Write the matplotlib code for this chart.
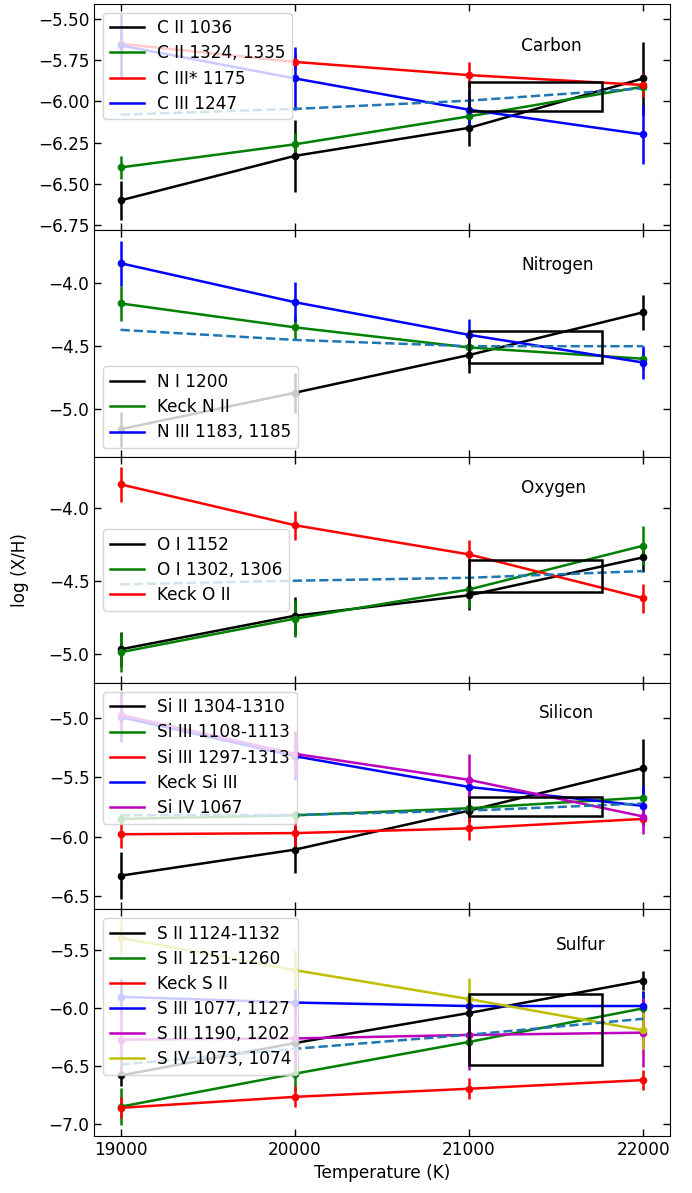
import matplotlib
matplotlib.use("Agg")
import matplotlib.pyplot as plt
from matplotlib.patches import Rectangle

plt.rcParams['font.family'] = ['DejaVu Sans']
plt.rcParams['font.size'] = 12.2

temps = [19000, 20000, 21000, 22000]
xticks = [19000, 20000, 21000, 22000]

# ---- Carbon ----
carbon_labels = ["C II 1036", "C II 1324, 1335", "C III* 1175", "C III 1247"]
carbon_colors = ["k", "g", "r", "b"]
carbon_vals = [[-6.60, -6.33, -6.16, -5.86],
               [-6.40, -6.26, -6.09, -5.91],
               [-5.65, -5.76, -5.84, -5.90],
               [-5.66, -5.86, -6.05, -6.20]]
carbon_err = [[0.12, 0.22, 0.11, 0.22],
              [0.07, 0.07, 0.06, 0.05],
              [0.05, 0.05, 0.08, 0.07],
              [0.19, 0.19, 0.12, 0.18]]
carbon_model = [-6.08, -6.045, -5.995, -5.92]
carbon_box = (-6.055, -5.88)

# ---- Nitrogen ----
nitrogen_labels = ["N I 1200", "Keck N II", "N III 1183, 1185"]
nitrogen_colors = ["k", "g", "b"]
nitrogen_vals = [[-5.16, -4.87, -4.57, -4.23],
                 [-4.16, -4.35, -4.51, -4.60],
                 [-3.84, -4.15, -4.41, -4.63]]
nitrogen_err = [[0.14, 0.16, 0.14, 0.14],
                [0.14, 0.10, 0.08, 0.08],
                [0.18, 0.16, 0.13, 0.13]]
nitrogen_model = [-4.37, -4.45, -4.50, -4.50]
nitrogen_box = (-4.635, -4.38)

# ---- Oxygen ----
oxygen_labels = ["O I 1152", "O I 1302, 1306", "Keck O II"]
oxygen_colors = ["k", "g", "r"]
oxygen_vals = [[-4.97, -4.74, -4.60, -4.34],
               [-4.99, -4.76, -4.56, -4.26],
               [-3.84, -4.12, -4.32, -4.62]]
oxygen_err = [[0.12, 0.13, 0.10, 0.10],
              [0.135, 0.127, 0.13, 0.133],
              [0.12, 0.10, 0.10, 0.10]]
oxygen_model = [-4.525, -4.50, -4.48, -4.434]
oxygen_box = (-4.575, -4.358)

# ---- Silicon ----
silicon_labels = ["Si II 1304-1310", "Si III 1108-1113", "Si III 1297-1313",
                  "Keck Si III", "Si IV 1067"]
silicon_colors = ["k", "g", "r", "b", "m"]
silicon_vals = [[-6.33, -6.11, -5.78, -5.42],
                [-5.85, -5.82, -5.76, -5.67],
                [-5.98, -5.97, -5.93, -5.85],
                [-4.99, -5.32, -5.58, -5.74],
                [-4.97, -5.30, -5.52, -5.83]]
silicon_err = [[0.20, 0.20, 0.10, 0.245],
               [0.04, 0.04, 0.04, 0.04],
               [0.12, 0.12, 0.10, 0.05],
               [0.21, 0.20, 0.10, 0.165],
               [0.15, 0.19, 0.22, 0.145]]
silicon_model = [-5.82, -5.817, -5.78, -5.72]
silicon_box = (-5.822, -5.667)

# ---- Sulfur ----
sulfur_labels = ["S II 1124-1132", "S II 1251-1260", "Keck S II",
                 "S III 1077, 1127", "S III 1190, 1202", "S IV 1073, 1074"]
sulfur_colors = ["k", "g", "r", "b", "m", "y"]
sulfur_vals = [[-6.58, -6.30, -6.04, -5.76],
               [-6.85, -6.565, -6.29, -6.00],
               [-6.86, -6.765, -6.695, -6.62],
               [-5.90, -5.95, -5.98, -5.98],
               [-6.27, -6.26, -6.23, -6.21],
               [-5.39, -5.67, -5.92, -6.19]]
sulfur_err = [[0.09, 0.10, 0.10, 0.08],
              [0.16, 0.15, 0.15, 0.15],
              [0.09, 0.09, 0.09, 0.09],
              [0.15, 0.12, 0.10, 0.13],
              [0.30, 0.25, 0.30, 0.30],
              [0.15, 0.17, 0.18, 0.16]]
sulfur_model = [-6.486, -6.35, -6.228, -6.09]
sulfur_box = (-6.491, -5.873)

box_x = (21000, 21760)

panels = [
    ("Carbon", carbon_labels, carbon_colors, carbon_vals, carbon_err, carbon_model,
     carbon_box, (-6.782, -5.409), [-6.75, -6.5, -6.25, -6.0, -5.75, -5.5], "upper left", (21300, -5.665)),
    ("Nitrogen", nitrogen_labels, nitrogen_colors, nitrogen_vals, nitrogen_err, nitrogen_model,
     nitrogen_box, (-5.379, -3.579), [-5.0, -4.5, -4.0], "lower left", (21300, -3.853)),
    ("Oxygen", oxygen_labels, oxygen_colors, oxygen_vals, oxygen_err, oxygen_model,
     oxygen_box, (-5.201, -3.651), [-5.0, -4.5, -4.0], "center left", (21300, -3.868)),
    ("Silicon", silicon_labels, silicon_colors, silicon_vals, silicon_err, silicon_model,
     silicon_box, (-6.615, -4.702), [-6.5, -6.0, -5.5, -5.0], "upper left", (21400, -4.958)),
    ("Sulfur", sulfur_labels, sulfur_colors, sulfur_vals, sulfur_err, sulfur_model,
     sulfur_box, (-7.101, -5.145), [-7.0, -6.5, -6.0, -5.5], "upper left", (21500, -5.451)),
]

fig, axes = plt.subplots(5, 1, sharex=True, figsize=(6.92, 11.93), dpi=100)
fig.subplots_adjust(left=0.1364, right=0.9675, top=0.9966, bottom=0.048, hspace=0)

for ax, (name, labels, colors, vals, errs, model, box, ylim, yt, loc, tpos) in zip(axes, panels):
    for lab, col, v, e in zip(labels, colors, vals, errs):
        ax.plot(temps, v, color=col, lw=1.8, label=lab)
        ax.errorbar(temps, v, yerr=e, fmt='o', color=col, ms=4.5, elinewidth=1.8, capsize=0)
    ax.plot(temps, model, '--', color='C0', lw=1.8)
    ax.add_patch(Rectangle((box_x[0], box[0]), box_x[1] - box_x[0], box[1] - box[0],
                           fill=False, edgecolor='k', lw=1.8, zorder=3))
    ax.text(tpos[0], tpos[1], name, ha='left', va='center', fontsize=12.2)
    ax.set_ylim(*ylim)
    ax.set_yticks(yt)
    if name == "Carbon":
        ax.set_yticklabels([f"{t:.2f}".replace('-', '\u2212') for t in yt])
    else:
        ax.set_yticklabels([f"{t:.1f}".replace('-', '\u2212') for t in yt])
    ax.tick_params(direction='in', top=True, right=True, length=5, width=1, labelsize=12.2)
    leg = ax.legend(loc=loc, fontsize=12.2, framealpha=0.8, handlelength=2.0,
                    labelspacing=0.42)

axes[-1].set_xlim(18850, 22150)
axes[-1].set_xticks(xticks)
axes[-1].set_xlabel("Temperature (K)", fontsize=12.2)
axes[2].set_ylabel("log (X/H)", fontsize=12.2, labelpad=14)

fig.savefig("out.png", dpi=100)
